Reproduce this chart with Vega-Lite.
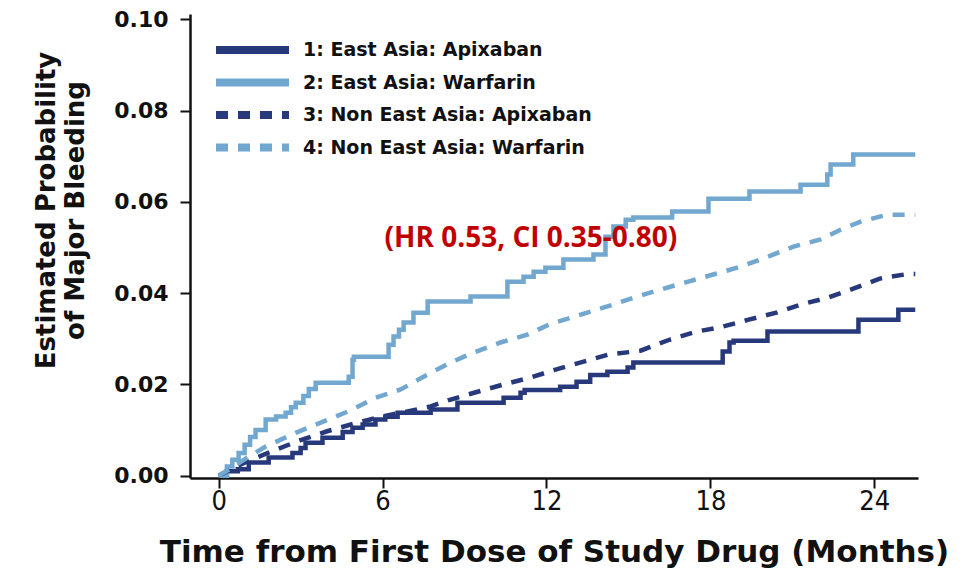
{
  "$schema": "https://vega.github.io/schema/vega-lite/v6.json",
  "autosize": {"type": "none"},
  "padding": {"left": 190, "top": 14, "right": 43, "bottom": 98},
  "width": 728,
  "height": 464,
  "background": "white",
  "config": {
    "view": {"stroke": null},
    "axis": {
      "grid": false,
      "domainColor": "#111111",
      "domainWidth": 2.5,
      "tickColor": "#111111",
      "tickWidth": 2,
      "tickSize": 10,
      "labelColor": "#111111",
      "titleColor": "#111111"
    }
  },
  "datasets": {
    "curves": [
      {"g": "1: East Asia: Apixaban", "t": 0, "p": 0},
      {"g": "1: East Asia: Apixaban", "t": 0.3, "p": 0.001},
      {"g": "1: East Asia: Apixaban", "t": 0.7, "p": 0.0014},
      {"g": "1: East Asia: Apixaban", "t": 1.1, "p": 0.0029},
      {"g": "1: East Asia: Apixaban", "t": 1.83, "p": 0.004},
      {"g": "1: East Asia: Apixaban", "t": 2.7, "p": 0.005},
      {"g": "1: East Asia: Apixaban", "t": 3.0, "p": 0.0061},
      {"g": "1: East Asia: Apixaban", "t": 3.18, "p": 0.0072},
      {"g": "1: East Asia: Apixaban", "t": 3.8, "p": 0.0083},
      {"g": "1: East Asia: Apixaban", "t": 4.54, "p": 0.0096},
      {"g": "1: East Asia: Apixaban", "t": 4.9, "p": 0.0105},
      {"g": "1: East Asia: Apixaban", "t": 5.27, "p": 0.0112},
      {"g": "1: East Asia: Apixaban", "t": 5.74, "p": 0.0123},
      {"g": "1: East Asia: Apixaban", "t": 6.1, "p": 0.0129},
      {"g": "1: East Asia: Apixaban", "t": 6.55, "p": 0.0138},
      {"g": "1: East Asia: Apixaban", "t": 7.76, "p": 0.0145},
      {"g": "1: East Asia: Apixaban", "t": 8.74, "p": 0.016},
      {"g": "1: East Asia: Apixaban", "t": 10.43, "p": 0.0171},
      {"g": "1: East Asia: Apixaban", "t": 11.05, "p": 0.0182},
      {"g": "1: East Asia: Apixaban", "t": 11.2, "p": 0.0188},
      {"g": "1: East Asia: Apixaban", "t": 12.5, "p": 0.0195},
      {"g": "1: East Asia: Apixaban", "t": 13.1, "p": 0.0206},
      {"g": "1: East Asia: Apixaban", "t": 13.6, "p": 0.0221},
      {"g": "1: East Asia: Apixaban", "t": 14.23, "p": 0.0228},
      {"g": "1: East Asia: Apixaban", "t": 14.97, "p": 0.0237},
      {"g": "1: East Asia: Apixaban", "t": 15.18, "p": 0.0248},
      {"g": "1: East Asia: Apixaban", "t": 18.45, "p": 0.0272},
      {"g": "1: East Asia: Apixaban", "t": 18.7, "p": 0.0292},
      {"g": "1: East Asia: Apixaban", "t": 18.85, "p": 0.0296},
      {"g": "1: East Asia: Apixaban", "t": 20.09, "p": 0.0316},
      {"g": "1: East Asia: Apixaban", "t": 23.42, "p": 0.0342},
      {"g": "1: East Asia: Apixaban", "t": 24.88, "p": 0.0364},
      {"g": "1: East Asia: Apixaban", "t": 25.5, "p": 0.0364},

      {"g": "2: East Asia: Warfarin", "t": 0, "p": 0},
      {"g": "2: East Asia: Warfarin", "t": 0.3, "p": 0.002},
      {"g": "2: East Asia: Warfarin", "t": 0.5, "p": 0.0035},
      {"g": "2: East Asia: Warfarin", "t": 0.73, "p": 0.005},
      {"g": "2: East Asia: Warfarin", "t": 0.95, "p": 0.0068},
      {"g": "2: East Asia: Warfarin", "t": 1.15, "p": 0.0085},
      {"g": "2: East Asia: Warfarin", "t": 1.35, "p": 0.01},
      {"g": "2: East Asia: Warfarin", "t": 1.72, "p": 0.0123},
      {"g": "2: East Asia: Warfarin", "t": 2.1, "p": 0.013},
      {"g": "2: East Asia: Warfarin", "t": 2.45, "p": 0.0138},
      {"g": "2: East Asia: Warfarin", "t": 2.65, "p": 0.015},
      {"g": "2: East Asia: Warfarin", "t": 2.82, "p": 0.016},
      {"g": "2: East Asia: Warfarin", "t": 3.1, "p": 0.0175},
      {"g": "2: East Asia: Warfarin", "t": 3.3, "p": 0.019},
      {"g": "2: East Asia: Warfarin", "t": 3.55, "p": 0.0204},
      {"g": "2: East Asia: Warfarin", "t": 4.76, "p": 0.0217},
      {"g": "2: East Asia: Warfarin", "t": 4.9, "p": 0.0254},
      {"g": "2: East Asia: Warfarin", "t": 4.95, "p": 0.0261},
      {"g": "2: East Asia: Warfarin", "t": 6.22, "p": 0.0287},
      {"g": "2: East Asia: Warfarin", "t": 6.4, "p": 0.0305},
      {"g": "2: East Asia: Warfarin", "t": 6.6, "p": 0.032},
      {"g": "2: East Asia: Warfarin", "t": 6.77, "p": 0.0336},
      {"g": "2: East Asia: Warfarin", "t": 7.13, "p": 0.0357},
      {"g": "2: East Asia: Warfarin", "t": 7.65, "p": 0.0382},
      {"g": "2: East Asia: Warfarin", "t": 9.22, "p": 0.0393},
      {"g": "2: East Asia: Warfarin", "t": 10.57, "p": 0.0425},
      {"g": "2: East Asia: Warfarin", "t": 11.16, "p": 0.0436},
      {"g": "2: East Asia: Warfarin", "t": 11.53, "p": 0.0447},
      {"g": "2: East Asia: Warfarin", "t": 11.96, "p": 0.0456},
      {"g": "2: East Asia: Warfarin", "t": 12.62, "p": 0.0474},
      {"g": "2: East Asia: Warfarin", "t": 13.72, "p": 0.0485},
      {"g": "2: East Asia: Warfarin", "t": 14.16, "p": 0.0524},
      {"g": "2: East Asia: Warfarin", "t": 14.45, "p": 0.0546},
      {"g": "2: East Asia: Warfarin", "t": 14.9, "p": 0.0561},
      {"g": "2: East Asia: Warfarin", "t": 15.18, "p": 0.0566},
      {"g": "2: East Asia: Warfarin", "t": 16.6, "p": 0.0579},
      {"g": "2: East Asia: Warfarin", "t": 17.93, "p": 0.0607},
      {"g": "2: East Asia: Warfarin", "t": 19.43, "p": 0.0623},
      {"g": "2: East Asia: Warfarin", "t": 21.3, "p": 0.0638},
      {"g": "2: East Asia: Warfarin", "t": 22.28, "p": 0.066},
      {"g": "2: East Asia: Warfarin", "t": 22.4, "p": 0.0682},
      {"g": "2: East Asia: Warfarin", "t": 23.23, "p": 0.0704},
      {"g": "2: East Asia: Warfarin", "t": 25.5, "p": 0.0704},

      {"g": "3: Non East Asia: Apixaban", "t": 0, "p": 0},
      {"g": "3: Non East Asia: Apixaban", "t": 0.5, "p": 0.0015},
      {"g": "3: Non East Asia: Apixaban", "t": 1, "p": 0.003},
      {"g": "3: Non East Asia: Apixaban", "t": 2, "p": 0.0055},
      {"g": "3: Non East Asia: Apixaban", "t": 3, "p": 0.0078},
      {"g": "3: Non East Asia: Apixaban", "t": 4, "p": 0.0098},
      {"g": "3: Non East Asia: Apixaban", "t": 5, "p": 0.0115},
      {"g": "3: Non East Asia: Apixaban", "t": 6, "p": 0.013},
      {"g": "3: Non East Asia: Apixaban", "t": 7, "p": 0.0142},
      {"g": "3: Non East Asia: Apixaban", "t": 7.76, "p": 0.0152},
      {"g": "3: Non East Asia: Apixaban", "t": 8.49, "p": 0.0167},
      {"g": "3: Non East Asia: Apixaban", "t": 9.48, "p": 0.0184},
      {"g": "3: Non East Asia: Apixaban", "t": 10.43, "p": 0.02},
      {"g": "3: Non East Asia: Apixaban", "t": 11.4, "p": 0.0215},
      {"g": "3: Non East Asia: Apixaban", "t": 12.3, "p": 0.0232},
      {"g": "3: Non East Asia: Apixaban", "t": 13.36, "p": 0.025},
      {"g": "3: Non East Asia: Apixaban", "t": 14.23, "p": 0.0265},
      {"g": "3: Non East Asia: Apixaban", "t": 15.44, "p": 0.0274},
      {"g": "3: Non East Asia: Apixaban", "t": 16.5, "p": 0.0298},
      {"g": "3: Non East Asia: Apixaban", "t": 17.5, "p": 0.0316},
      {"g": "3: Non East Asia: Apixaban", "t": 18.4, "p": 0.0326},
      {"g": "3: Non East Asia: Apixaban", "t": 19.4, "p": 0.0342},
      {"g": "3: Non East Asia: Apixaban", "t": 20.45, "p": 0.0358},
      {"g": "3: Non East Asia: Apixaban", "t": 21.3, "p": 0.0375},
      {"g": "3: Non East Asia: Apixaban", "t": 22.28, "p": 0.039},
      {"g": "3: Non East Asia: Apixaban", "t": 23.23, "p": 0.041},
      {"g": "3: Non East Asia: Apixaban", "t": 24.2, "p": 0.0432},
      {"g": "3: Non East Asia: Apixaban", "t": 25.2, "p": 0.0442},
      {"g": "3: Non East Asia: Apixaban", "t": 25.5, "p": 0.0442},

      {"g": "4: Non East Asia: Warfarin", "t": 0, "p": 0},
      {"g": "4: Non East Asia: Warfarin", "t": 0.5, "p": 0.0018},
      {"g": "4: Non East Asia: Warfarin", "t": 1, "p": 0.0038},
      {"g": "4: Non East Asia: Warfarin", "t": 1.72, "p": 0.0064},
      {"g": "4: Non East Asia: Warfarin", "t": 2.82, "p": 0.0094},
      {"g": "4: Non East Asia: Warfarin", "t": 3.8, "p": 0.0118},
      {"g": "4: Non East Asia: Warfarin", "t": 4.9, "p": 0.0145},
      {"g": "4: Non East Asia: Warfarin", "t": 5.74, "p": 0.0171},
      {"g": "4: Non East Asia: Warfarin", "t": 6.66, "p": 0.0189},
      {"g": "4: Non East Asia: Warfarin", "t": 7.5, "p": 0.0217},
      {"g": "4: Non East Asia: Warfarin", "t": 8.49, "p": 0.0248},
      {"g": "4: Non East Asia: Warfarin", "t": 9.33, "p": 0.027},
      {"g": "4: Non East Asia: Warfarin", "t": 10.32, "p": 0.0292},
      {"g": "4: Non East Asia: Warfarin", "t": 11.3, "p": 0.0309},
      {"g": "4: Non East Asia: Warfarin", "t": 12.15, "p": 0.0333},
      {"g": "4: Non East Asia: Warfarin", "t": 13.25, "p": 0.0353},
      {"g": "4: Non East Asia: Warfarin", "t": 14.23, "p": 0.0371},
      {"g": "4: Non East Asia: Warfarin", "t": 15.18, "p": 0.039},
      {"g": "4: Non East Asia: Warfarin", "t": 16.17, "p": 0.0408},
      {"g": "4: Non East Asia: Warfarin", "t": 17.16, "p": 0.0425},
      {"g": "4: Non East Asia: Warfarin", "t": 18.1, "p": 0.0441},
      {"g": "4: Non East Asia: Warfarin", "t": 19.1, "p": 0.0458},
      {"g": "4: Non East Asia: Warfarin", "t": 20.1, "p": 0.048},
      {"g": "4: Non East Asia: Warfarin", "t": 21.04, "p": 0.0502},
      {"g": "4: Non East Asia: Warfarin", "t": 22.03, "p": 0.0518},
      {"g": "4: Non East Asia: Warfarin", "t": 22.76, "p": 0.0539},
      {"g": "4: Non East Asia: Warfarin", "t": 23.5, "p": 0.0557},
      {"g": "4: Non East Asia: Warfarin", "t": 24.48, "p": 0.0572},
      {"g": "4: Non East Asia: Warfarin", "t": 25.5, "p": 0.0572}
    ],
    "note": [
      {"t": 11.43, "p": 0.0502, "label": "(HR 0.53, CI 0.35-0.80)"}
    ]
  },
  "encoding": {
    "x": {
      "field": "t",
      "type": "quantitative",
      "scale": {"domain": [-1.05, 25.6], "nice": false, "zero": false},
      "axis": {
        "values": [0, 6, 12, 18, 24],
        "title": "Time from First Dose of Study Drug (Months)",
        "titleFont": "DejaVu Sans",
        "titleFontWeight": "bold",
        "titleFontSize": 31,
        "titlePadding": 23,
        "labelFont": "DejaVu Sans Condensed, Roboto, Liberation Sans",
        "labelFontSize": 27,
        "labelFontWeight": "normal",
        "labelPadding": 0,
        "tickSize": 10
      }
    },
    "y": {
      "field": "p",
      "type": "quantitative",
      "scale": {"domain": [-0.0005, 0.1012], "nice": false, "zero": false},
      "axis": {
        "values": [0, 0.02, 0.04, 0.06, 0.08, 0.1],
        "format": ".2f",
        "title": ["Estimated Probability", "of Major Bleeding"],
        "titleFont": "DejaVu Sans",
        "titleFontWeight": "bold",
        "titleFontSize": 26,
        "titleLineHeight": 29,
        "titleY": 196,
        "titleAlign": "center",
        "titlePadding": 25,
        "labelFont": "DejaVu Sans",
        "labelFontSize": 22,
        "labelFontWeight": "bold",
        "labelPadding": 12,
        "tickSize": 10
      }
    }
  },
  "layer": [
    {
      "data": {"name": "curves"},
      "transform": [{"filter": "indexof(datum.g, 'Non') < 0"}],
      "mark": {"type": "line", "interpolate": "step-after", "strokeWidth": 4.5, "strokeCap": "butt"},
      "encoding": {
        "color": {
          "field": "g",
          "type": "nominal",
          "scale": {
            "domain": ["1: East Asia: Apixaban", "2: East Asia: Warfarin", "3: Non East Asia: Apixaban", "4: Non East Asia: Warfarin"],
            "range": ["#27397b", "#72a7cf", "#27397b", "#72a7cf"]
          },
          "legend": {
            "title": null,
            "orient": "none",
            "legendX": 22,
            "legendY": 26,
            "symbolType": "stroke",
            "symbolSize": 5329,
            "symbolStrokeWidth": 8,
            "clipHeight": 20,
            "labelFont": "DejaVu Sans",
            "labelFontWeight": "bold",
            "labelFontSize": 19,
            "labelColor": "#111111",
            "labelOffset": 10,
            "rowPadding": 12.5,
            "labelLimit": 400
          }
        },
        "strokeDash": {
          "field": "g",
          "type": "nominal",
          "scale": {
            "domain": ["1: East Asia: Apixaban", "2: East Asia: Warfarin", "3: Non East Asia: Apixaban", "4: Non East Asia: Warfarin"],
            "range": [[1, 0], [1, 0], [12, 10], [12, 10]]
          },
          "legend": null
        }
      }
    },
    {
      "data": {"name": "curves"},
      "transform": [{"filter": "indexof(datum.g, 'Non') >= 0"}],
      "mark": {"type": "line", "interpolate": "linear", "strokeWidth": 4.5, "strokeCap": "butt"},
      "encoding": {
        "color": {"field": "g", "type": "nominal"},
        "strokeDash": {"field": "g", "type": "nominal"}
      }
    },
    {
      "data": {"name": "note"},
      "mark": {
        "type": "text",
        "font": "Open Sans",
        "fontWeight": "bold",
        "fontSize": 28,
        "color": "#c00000",
        "align": "center",
        "baseline": "alphabetic"
      },
      "encoding": {
        "text": {"field": "label"}
      }
    }
  ]
}
